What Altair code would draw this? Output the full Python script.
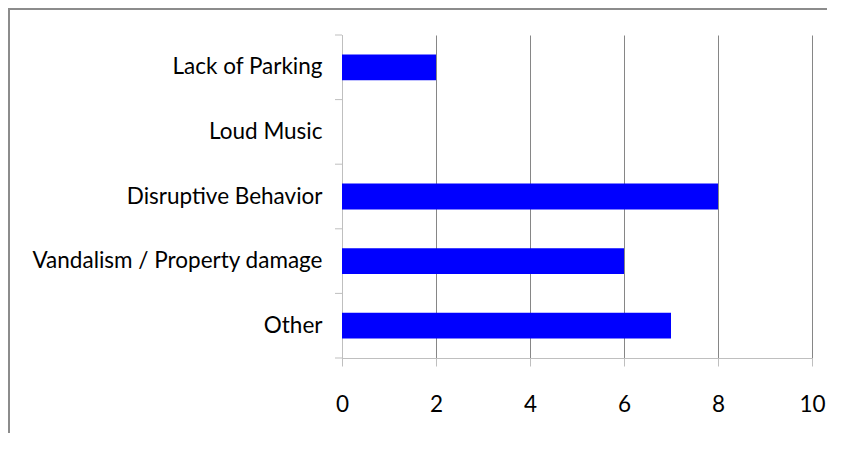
import altair as alt
import pandas as pd

categories = ["Lack of Parking", "Loud Music", "Disruptive Behavior",
              "Vandalism / Property damage", "Other"]
values = [2, 0, 8, 6, 7]
x_ticks = [0, 2, 4, 6, 8, 10]
boundaries = [0, 1, 2, 3, 4, 5]

df = pd.DataFrame({"category": categories, "value": values})
bdf = pd.DataFrame({"b": boundaries})

W, H = 470, 323
FONT = "Lato"
FS = 22.5
LIGHT = "#BFBFBF"
GRID = "#868686"

bars = alt.Chart(df).mark_bar(color="#0000FF").encode(
    x=alt.X("value:Q", scale=alt.Scale(domain=[0, 10], nice=False),
            axis=alt.Axis(values=x_ticks, title=None, grid=True, gridColor=GRID,
                          domainColor=LIGHT, tickColor=LIGHT, tickSize=8,
                          labelPadding=27, labelFontSize=FS, labelFont=FONT,
                          labelColor="black", format="d", labelFlush=False)),
    y=alt.Y("category:N", sort=categories,
            scale=alt.Scale(paddingInner=0.6, paddingOuter=0.3),
            axis=alt.Axis(title=None, ticks=False, tickSize=0, labelPadding=20,
                          domainColor=LIGHT, labelFontSize=FS, labelFont=FONT,
                          labelColor="black", grid=False, labelLimit=400)),
)

ticks = alt.Chart(bdf).mark_rule(color=LIGHT).encode(
    y=alt.Y("b:Q", scale=alt.Scale(domain=[0, 5], nice=False, zero=False), axis=None),
    x=alt.value(-7), x2=alt.value(0),
)

one = pd.DataFrame({"a": [0]})
frame_top = alt.Chart(one).mark_rule(color="#8C8C8C", strokeWidth=2).encode(
    x=alt.value(-333), x2=alt.value(495), y=alt.value(-26))
frame_left = alt.Chart(one).mark_rule(color="#8C8C8C", strokeWidth=2).encode(
    x=alt.value(-333), y=alt.value(-27), y2=alt.value(400))

chart = alt.layer(bars, ticks, frame_top, frame_left).resolve_scale(
    y="independent"
).properties(
    width=W, height=H,
    padding={"left": 334, "top": 27, "right": 15, "bottom": 75},
    autosize=alt.AutoSizeParams(type="none"),
).configure_view(stroke=None)

chart.save("out.html", embed_options={"renderer": "svg", "actions": False})
